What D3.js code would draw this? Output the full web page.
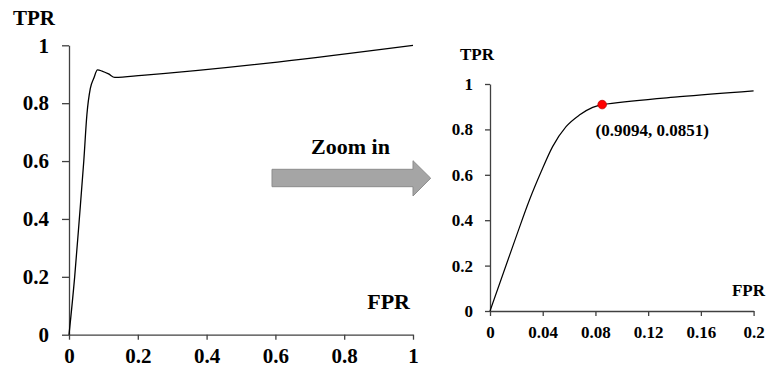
<!DOCTYPE html>
<html>
<head>
<meta charset="utf-8">
<script src="https://cdn.jsdelivr.net/npm/d3@7"></script>
<style>
  body { margin: 0; background: #fff; }
  svg text { font-family: "Liberation Serif", "Times New Roman", Tinos, "DejaVu Serif", serif !important; font-weight: bold; fill: #000; }
</style>
</head>
<body>
<svg id="chart"></svg>
<script>
// full ROC curve (left panel)
const leftFpr = [0, 0.0165, 0.030, 0.043, 0.052, 0.062, 0.072, 0.083, 0.096, 0.115, 0.133, 0.212, 1];
const leftTpr = [0, 0.2, 0.4, 0.6, 0.76, 0.851, 0.886, 0.915, 0.911, 0.901, 0.889, 0.896, 1];
const leftTicks = [0, 0.2, 0.4, 0.6, 0.8, 1];

// zoomed ROC curve (right panel)
const rightFpr = [0, 0.01, 0.02, 0.03, 0.0387, 0.0475, 0.0577, 0.0678, 0.0779, 0.0851, 0.0885, 0.144, 0.2];
const rightTpr = [0, 0.165, 0.33, 0.49, 0.612, 0.724, 0.812, 0.863, 0.897, 0.9094, 0.912, 0.944, 0.970];
const rightXTicks = [0, 0.04, 0.08, 0.12, 0.16, 0.2];
const rightYTicks = [0, 0.2, 0.4, 0.6, 0.8, 1];

const pointFpr = 0.0851, pointTpr = 0.9094;
const pointLabel = "(0.9094, 0.0851)";

const serif = "'Liberation Serif', 'Times New Roman', Tinos, 'DejaVu Serif', serif";

const svg = d3.select("#chart").attr("width", 771).attr("height", 376);

function styleAxis(g, size) {
  g.attr("font-family", null).attr("font-size", null);
  g.selectAll("path.domain").attr("stroke", "#404040").attr("stroke-width", 1.3);
  g.selectAll(".tick line").attr("stroke", "#404040").attr("stroke-width", 1.3);
  g.selectAll(".tick text")
    .style("font-size", size + "px")
    .style("font-family", serif)
    .style("font-weight", "bold")
    .attr("fill", "#000");
}

function label(x, y, size, anchor, txt) {
  svg.append("text").attr("x", x).attr("y", y)
    .attr("text-anchor", anchor)
    .style("font-size", size + "px").style("font-family", serif).style("font-weight", "bold")
    .text(txt);
}

const fmt = d => String(+d.toFixed(2));

// ---- left panel
const x1 = d3.scaleLinear().domain([0, 1]).range([69, 413]);
const y1 = d3.scaleLinear().domain([0, 1]).range([334.7, 45.3]);

const gy1 = svg.append("g").attr("transform", "translate(69,0)")
  .call(d3.axisLeft(y1).tickValues(leftTicks).tickFormat(fmt).tickSizeInner(7).tickSizeOuter(0).tickPadding(13));
styleAxis(gy1, 21);
const gx1 = svg.append("g").attr("transform", "translate(0,334.7)")
  .call(d3.axisBottom(x1).tickValues(leftTicks).tickFormat(fmt).tickSizeInner(5).tickSizeOuter(0).tickPadding(8));
styleAxis(gx1, 21);

const line1 = d3.line()
  .x((d, i) => x1(leftFpr[i]))
  .y((d, i) => y1(leftTpr[i]))
  .curve(d3.curveMonotoneX);
svg.append("path").datum(leftFpr)
  .attr("fill", "none").attr("stroke", "#000").attr("stroke-width", 1.3)
  .attr("d", line1);

label(13, 25, 21, "start", "TPR");
label(410, 309, 22, "end", "FPR");

// ---- arrow
svg.append("path")
  .attr("d", "M272,169.3 L413,169.3 L413,160.7 L430.7,178.2 L413,196 L413,186.7 L272,186.7 Z")
  .attr("fill", "#a5a5a5").attr("stroke", "#8c8c8c").attr("stroke-width", 1);
label(350.5, 154, 22, "middle", "Zoom in");

// ---- right panel
const x2 = d3.scaleLinear().domain([0, 0.2]).range([490, 753.6]);
const y2 = d3.scaleLinear().domain([0, 1]).range([311, 84]);

const gy2 = svg.append("g").attr("transform", "translate(490,0)")
  .call(d3.axisLeft(y2).tickValues(rightYTicks).tickFormat(fmt).tickSizeInner(5).tickSizeOuter(0).tickPadding(12));
styleAxis(gy2, 17);
const gx2 = svg.append("g").attr("transform", "translate(0,311)")
  .call(d3.axisBottom(x2).tickValues(rightXTicks).tickFormat(fmt).tickSizeInner(5).tickSizeOuter(0).tickPadding(10));
styleAxis(gx2, 17);

const line2 = d3.line()
  .x((d, i) => x2(rightFpr[i]))
  .y((d, i) => y2(rightTpr[i]))
  .curve(d3.curveMonotoneX);
svg.append("path").datum(rightFpr)
  .attr("fill", "none").attr("stroke", "#000").attr("stroke-width", 1.2)
  .attr("d", line2);

svg.append("circle")
  .attr("cx", x2(pointFpr)).attr("cy", y2(pointTpr)).attr("r", 4.3)
  .attr("fill", "#ff0000").attr("stroke", "#c00000").attr("stroke-width", 0.8);
label(x2(pointFpr) - 6.6, y2(pointTpr) + 31, 17, "start", pointLabel);

label(460, 60, 17, "start", "TPR");
label(765, 296, 17, "end", "FPR");
</script>
</body>
</html>
